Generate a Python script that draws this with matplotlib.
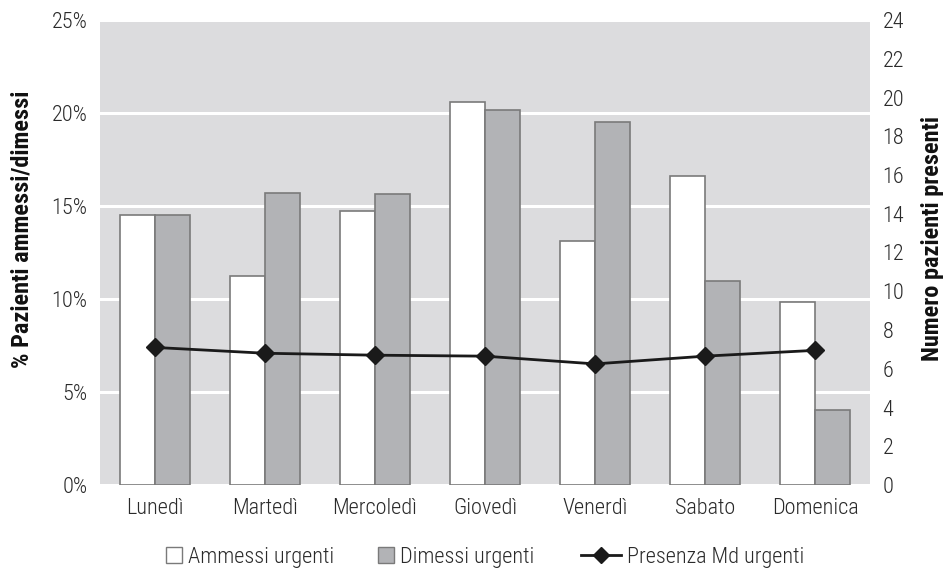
import matplotlib
matplotlib.use("Agg")
import matplotlib.pyplot as plt
from matplotlib.ticker import FuncFormatter
from matplotlib.lines import Line2D
from matplotlib.patches import Rectangle
import numpy as np

FAMILY = ['Roboto Condensed', 'Barlow Semi Condensed', 'Archivo Narrow', 'DejaVu Sans']
plt.rcParams['font.family'] = FAMILY

days = ["Lunedì", "Martedì", "Mercoledì", "Giovedì", "Venerdì", "Sabato", "Domenica"]
ammessi = [14.5, 11.25, 14.75, 20.6, 13.1, 16.6, 9.85]
dimessi = [14.5, 15.7, 15.65, 20.15, 19.5, 10.95, 4.05]
presenza_md = [7.1, 6.8, 6.7, 6.65, 6.25, 6.65, 6.95]

left_ticks = [0, 5, 10, 15, 20, 25]
right_ticks = list(range(0, 25, 2))
legend_labels = ["Ammessi urgenti", "Dimessi urgenti", "Presenza Md urgenti"]

W, H = 949, 568
TXT = "#2a2a2a"
EDGE = "#7a7a7a"
GRAY = "#b2b3b6"
LINE = "#1a1a1a"
FS = 16
LFS = 17.5

fig = plt.figure(figsize=(W / 100, H / 100), dpi=100)
ax_l, ax_r, ax_t, ax_b = 100, 870, 20, 485
ax = fig.add_axes([ax_l / W, 1 - ax_b / H, (ax_r - ax_l) / W, (ax_b - ax_t) / H])
ax.set_facecolor("#dcdcde")

x = np.arange(len(days))
w = 0.318
ax.bar(x - w / 2, ammessi, width=w, color="white", edgecolor=EDGE, linewidth=1.2, zorder=3)
ax.bar(x + w / 2, dimessi, width=w, color=GRAY, edgecolor=EDGE, linewidth=1.2, zorder=3)

ax.set_xlim(-0.5, len(days) - 0.5)
ax.set_ylim(0, 25)
ax.set_yticks(left_ticks)
ax.yaxis.set_major_formatter(FuncFormatter(lambda v, _: f"{v:.0f}%"))
ax.grid(axis="y", color="white", linewidth=2.2, zorder=1)
ax.set_axisbelow(True)
ax.set_xticks(x)
ax.set_xticklabels(days, fontweight="light")
for lab in ax.get_yticklabels():
    lab.set_fontweight("light")
ax.tick_params(axis="both", length=0, labelsize=FS, colors=TXT)
ax.tick_params(axis="x", pad=9)
ax.tick_params(axis="y", pad=9)
for s in ax.spines.values():
    s.set_visible(False)
ax.set_ylabel("% Pazienti ammessi/dimessi", fontsize=LFS, fontweight="bold",
              color="#111111")
ax.yaxis.set_label_coords((34 - ax_l) / (ax_r - ax_l), (ax_b - 229) / (ax_b - ax_t))

ax2 = ax.twinx()
ax2.set_ylim(0, 24)
ax2.set_yticks(right_ticks)
ax2.plot(x, presenza_md, color=LINE, linewidth=2.0, marker="D", markersize=9,
         zorder=5)
ax2.tick_params(axis="y", length=0, labelsize=FS, colors=TXT, pad=9)
for lab in ax2.get_yticklabels():
    lab.set_fontweight("light")
for s in ax2.spines.values():
    s.set_visible(False)
ax2.set_ylabel("Numero pazienti presenti", fontsize=LFS, fontweight="bold",
               color="#111111")
ax2.yaxis.set_label_coords((921 - ax_l) / (ax_r - ax_l), (ax_b - 238) / (ax_b - ax_t))

# legend row laid out by hand in pixel units, centred under the axes
fig.canvas.draw()
renderer = fig.canvas.get_renderer()
px = lambda v: v / W
py = lambda v: 1 - v / H
baseline = 563
sq = 16
pad = 6
gaps = [0, 44, 46]
line_len = 40

texts = []
widths = []
for lab in legend_labels:
    t = fig.text(0, py(baseline), lab, fontsize=FS, fontweight="light", color=TXT,
                 va="baseline", ha="left")
    texts.append(t)
    widths.append(t.get_window_extent(renderer).width)

handle_w = [sq, sq, line_len]
total = sum(gaps) + sum(handle_w) + pad * 3 + sum(widths)
cur = (ax_l + ax_r) / 2 - total / 2
for i, (lab, t) in enumerate(zip(legend_labels, texts)):
    cur += gaps[i]
    if i < 2:
        face = "white" if i == 0 else GRAY
        fig.patches.append(Rectangle((px(cur), py(baseline)), sq / W, sq / H,
                                     transform=fig.transFigure, facecolor=face,
                                     edgecolor=EDGE, linewidth=1.0))
    else:
        ymid = py(baseline - 8)
        fig.lines.append(Line2D([px(cur), px(cur + line_len)], [ymid, ymid],
                                transform=fig.transFigure, color=LINE, linewidth=2.0))
        fig.lines.append(Line2D([px(cur + line_len / 2)], [ymid], transform=fig.transFigure,
                                color=LINE, marker="D", markersize=8, linestyle="none"))
    cur += handle_w[i] + pad
    t.set_x(px(cur))
    cur += widths[i]

fig.savefig("out.png", dpi=100)
